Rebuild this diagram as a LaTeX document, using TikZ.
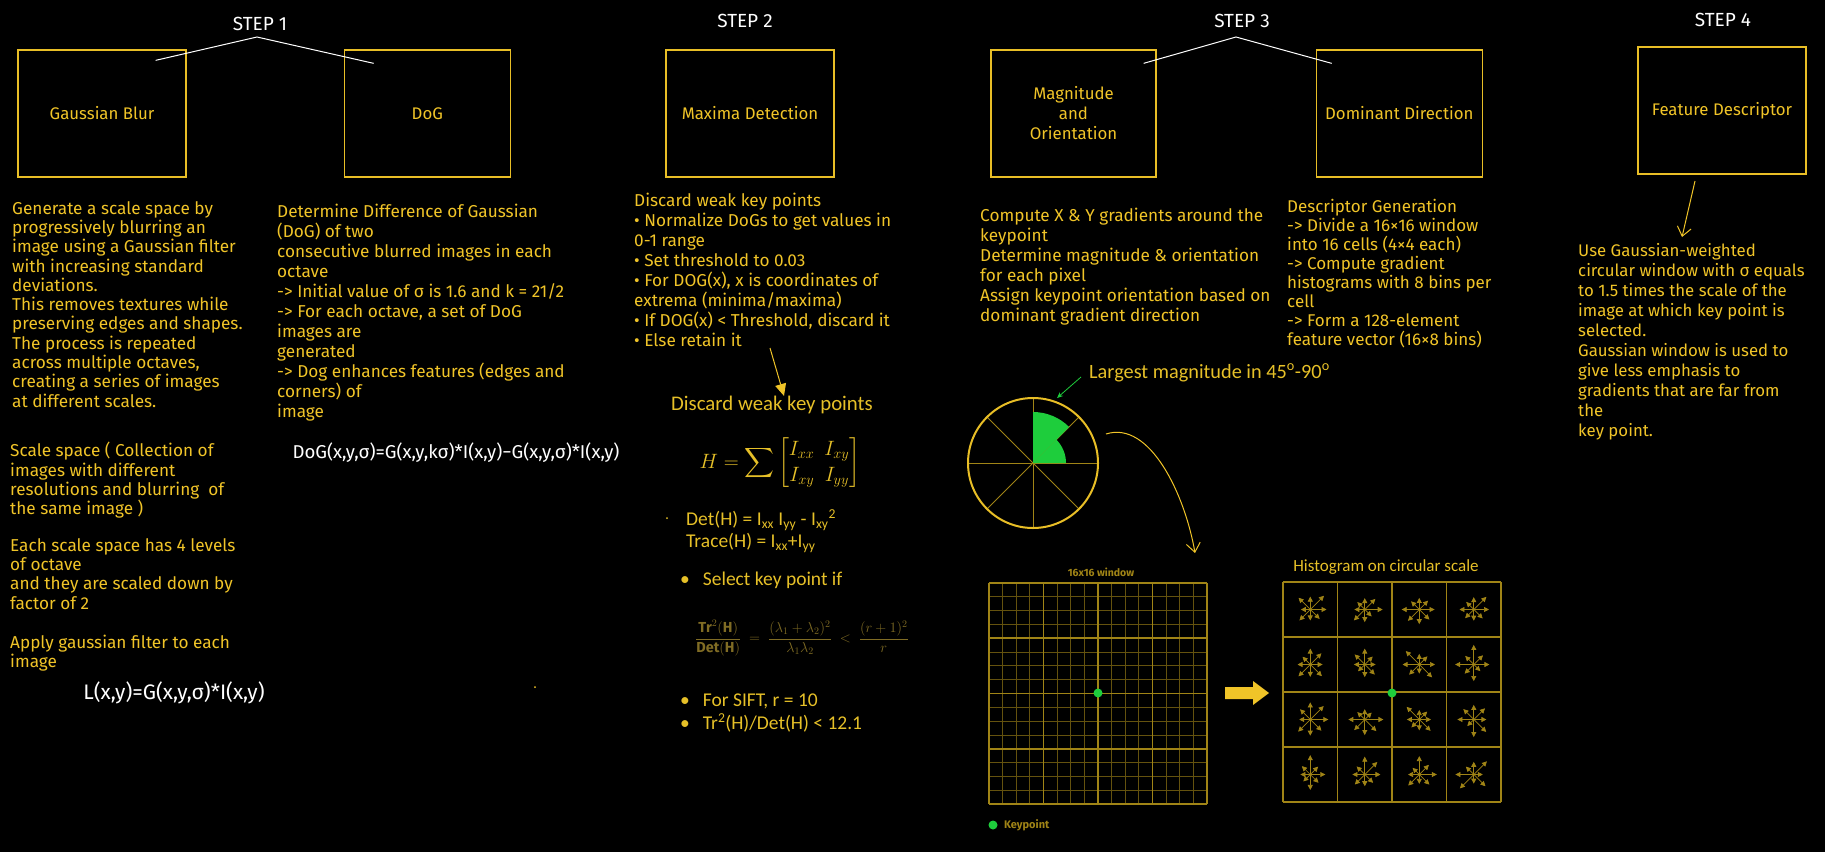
\documentclass[tikz,border=0pt]{standalone}
\usepackage{amsmath}
\usepackage{fontspec}
\setmainfont{Fira Sans}
\newfontfamily\slidefont{Carlito}
\usepackage{xcolor}
\usetikzlibrary{arrows.meta,positioning,calc}

\definecolor{sketchyel}{RGB}{240,196,40}
\definecolor{boxyel}{RGB}{232,190,38}
\definecolor{slideyel}{RGB}{230,192,40}
\definecolor{dimyel}{RGB}{128,108,36}
\definecolor{gridyel}{RGB}{160,132,22}
\definecolor{finegrid}{RGB}{100,82,14}
\definecolor{keygreen}{RGB}{30,205,60}

\newcommand{\handfont}{\fontsize{17.2}{20}\selectfont}
\newcommand{\labelfont}{\fontsize{16.8}{20}\selectfont}
\newcommand{\stepfont}{\fontsize{19}{21}\selectfont}
\newcommand{\slidesize}{\slidefont\fontsize{19.5}{23}\selectfont}

\begin{document}
\begin{tikzpicture}[
  x=1pt, y=-1pt,
  stepbox/.style={draw=boxyel, line width=1.3pt, minimum width=167pt, minimum height=127pt, text=sketchyel, font=\labelfont, align=center, inner sep=2pt},
  steplabel/.style={text=white, font=\stepfont, inner sep=1pt},
  stepline/.style={draw=white, line width=1pt},
  note/.style={text=sketchyel, font=\handfont, align=left, anchor=north west, inner sep=0pt},
  formula/.style={text=white, inner sep=0pt},
  slide/.style={text=slideyel, font=\slidesize, inner sep=0pt},
  sketcharrow/.style={draw=sketchyel, line width=1pt, -{Straight Barb[length=9pt,width=14pt]}},
  histarrow/.style={draw=gridyel, line width=0.7pt, -{Triangle[length=5pt,width=5pt]}}
]
\fill[black] (0,0) rectangle (1825,852);
\useasboundingbox (0,0) rectangle (1825,852);

% step 1
\node[stepbox, minimum width=168pt] (gb) at (102,113.5) {Gaussian Blur};
\node[stepbox, minimum width=166pt, right=157pt of gb] (dog) {DoG};
\node[steplabel] (step1) at (260,24) {STEP 1};
\coordinate (s1apex) at (257,37);
\coordinate (s1left) at ($(gb.north east)+(-31,11)$);
\coordinate (s1right) at ($(dog.north west)+(30,14)$);
\draw[stepline] (s1left) -- (s1apex) -- (s1right);

\node[note, font=\fontsize{17.2}{19.3}\selectfont] (scalespace) at (12,201) {Generate a scale space by\\
progressively blurring an\\
image using a Gaussian filter\\
with increasing standard\\
deviations.\\
This removes textures while\\
preserving edges and shapes.\\
The process is repeated\\
across multiple octaves,\\
creating a series of images\\
at different scales.};
\node[note, font=\fontsize{17.2}{19.3}\selectfont] (collection) at (10,442) {Scale space ( Collection of\\
images with different\\
resolutions and blurring\ \ of\\
the same image )};
\node[note, font=\fontsize{17.2}{19.3}\selectfont] (levels) at (10,538) {Each scale space has 4 levels\\
of octave\\
and they are scaled down by\\
factor of 2};
\node[note, font=\fontsize{17.2}{19.3}\selectfont] (applyg) at (10,635) {Apply gaussian filter to each\\
image};
\node[formula, font=\fontsize{21}{24}\selectfont] (lformula) at (174,693) {L(x,y)=G(x,y,σ)*I(x,y)};

\node[note] (dogtext) at (277,204) {Determine Difference of Gaussian\\
(DoG) of two\\
consecutive blurred images in each\\
octave\\
-> Initial value of σ is 1.6 and k = 21/2\\
-> For each octave, a set of DoG\\
images are\\
generated\\
-> Dog enhances features (edges and\\
corners) of\\
image};
\node[formula, font=\fontsize{18.6}{22}\selectfont] (dogformula) at (456,453) {DoG(x,y,σ)=G(x,y,kσ)*I(x,y)−G(x,y,σ)*I(x,y)};

% step 2
\node[steplabel] (step2) at (745,21) {STEP 2};
\node[stepbox, minimum width=168pt] (maxima) at (750,113.5) {Maxima Detection};
\node[note] (weak) at (634,193) {Discard weak key points\\
• Normalize DoGs to get values in\\
0-1 range\\
• Set threshold to 0.03\\
• For DOG(x), x is coordinates of\\
extrema (minima/maxima)\\
• If DOG(x) < Threshold, discard it\\
• Else retain it};
\node[slide, font=\slidefont\fontsize{20.8}{24}\selectfont] (hesstitle) at (772,405) {Discard weak key points};
\coordinate (weakend) at (770,348);
\draw[draw=sketchyel, line width=1pt, -{Triangle[length=12pt,width=11pt]}] (weakend) -- (hesstitle.north -| 784,0);
\node[slide, font=\fontsize{22}{26}\selectfont] (hessian) at (780,463)
  {$H=\displaystyle\sum\begin{bmatrix} I_{xx} & I_{xy}\\ I_{xy} & I_{yy}\end{bmatrix}$};
\fill[slideyel] (667,518) circle (1pt);
\node[slide, anchor=west] (deth) at (686,520) {Det(H) = I\textsubscript{xx} I\textsubscript{yy} - I\textsubscript{xy}\textsuperscript{2}};
\node[slide, anchor=west] (traceh) at (686,543) {Trace(H) = I\textsubscript{xx}+I\textsubscript{yy}};
\node[slide, anchor=west] (select) at (680,580) {•\hspace{13pt}Select key point if};
\node[text=dimyel, inner sep=0pt, font=\fontsize{14.5}{18}\selectfont] (ratio) at (802,638)
  {$\dfrac{\mathbf{Tr}^2(\mathbf{H})}{\mathbf{Det}(\mathbf{H})} \;=\; \dfrac{(\lambda_1+\lambda_2)^2}{\lambda_1\lambda_2} \;<\; \dfrac{(r+1)^2}{r}$};
\node[slide, anchor=west] (sift) at (680,701) {•\hspace{13pt}For SIFT, r = 10};
\node[slide, anchor=west] (trdet) at (680,723) {•\hspace{13pt}Tr\textsuperscript{2}(H)/Det(H) < 12.1};
\fill[sketchyel] (535,687) circle (1pt);

% step 3
\node[steplabel] (step3) at (1242,21) {STEP 3};
\node[stepbox, minimum width=165pt] (magori) at (1073.5,113.5) {Magnitude\\and\\Orientation};
\node[stepbox, minimum width=166pt, right=159pt of magori] (domdir) {Dominant Direction};
\coordinate (s3apex) at (1236,37);
\coordinate (s3left) at ($(magori.north east)+(-13,14)$);
\coordinate (s3right) at ($(domdir.north west)+(16,14)$);
\draw[stepline] (s3left) -- (s3apex) -- (s3right);

\node[note] (gradtext) at (980,208) {Compute X \& Y gradients around the\\
keypoint\\
Determine magnitude \& orientation\\
for each pixel\\
Assign keypoint orientation based on\\
dominant gradient direction};
\node[note, font=\fontsize{17}{19}\selectfont] (desctext) at (1287,199) {Descriptor Generation\\
-> Divide a 16×16 window\\
into 16 cells (4×4 each)\\
-> Compute gradient\\
histograms with 8 bins per\\
cell\\
-> Form a 128-element\\
feature vector (16×8 bins)};

% orientation circle
\coordinate (wheel) at (1033,463);
\foreach \a in {0,45,...,315}
  \draw[gridyel, line width=0.8pt] (wheel) -- ++(\a:65pt);
\fill[keygreen] (wheel) -- ++(45:51pt) arc[start angle=45, end angle=90, radius=51pt] -- cycle;
\fill[keygreen] (wheel) -- ++(0:33pt) arc[start angle=0, end angle=45, radius=33pt] -- cycle;
\draw[boxyel, line width=2pt] (wheel) circle (65pt);
\node[slide, anchor=west, font=\slidefont\fontsize{20.3}{24}\selectfont] (largest) at (1089,373) {Largest magnitude in 45\textsuperscript{o}-90\textsuperscript{o}};
\coordinate (greentip) at (1057,398);
\draw[keygreen, line width=0.8pt, -{Stealth[length=6pt,width=5pt]}] (largest.west) ++(-8,4) -- (greentip);
\coordinate (curvestart) at (1106,434);
\coordinate (curveend) at (1195,553);
\draw[sketcharrow] (curvestart) .. controls (1150,420) and (1185,495) .. (curveend);

% 16x16 window
\node[text=gridyel, font=\bfseries\fontsize{10.5}{12}\selectfont, inner sep=0pt] (wintitle) at (1101,572) {16x16 window};
\foreach \i in {0,...,16} {
  \draw[finegrid, line width=0.8pt] ({989+13.625*\i},583) -- ({989+13.625*\i},804);
  \draw[finegrid, line width=0.8pt] (989,{583+13.8125*\i}) -- (1207,{583+13.8125*\i});
}
\foreach \i in {0,4,...,16} {
  \draw[gridyel, line width=1.6pt] ({989+13.625*\i},583) -- ({989+13.625*\i},804);
  \draw[gridyel, line width=1.6pt] (989,{583+13.8125*\i}) -- (1207,{583+13.8125*\i});
}
\fill[keygreen] (1098,693) circle (4.5pt);
\fill[keygreen] (993,825) circle (4.5pt);
\node[text=gridyel, font=\bfseries\fontsize{11}{12}\selectfont, anchor=west, inner sep=0pt] (keylegend) at (1004,825) {Keypoint};

% block arrow
\fill[sketchyel] (1225,687) -- (1253,687) -- (1253,681) -- (1269,693) -- (1253,705) -- (1253,699) -- (1225,699) -- cycle;

% histogram grid
\node[slide, font=\slidefont\fontsize{17}{20}\selectfont] (histtitle) at (1386,567) {Histogram on circular scale};
\foreach \i in {0,...,4} {
  \draw[gridyel, line width=1.6pt] ({1283+54.5*\i},582) -- ({1283+54.5*\i},802);
  \draw[gridyel, line width=1.6pt] (1283,{582+55*\i}) -- (1501,{582+55*\i});
}
\pgfmathsetseed{11}
\foreach \i in {0,...,3}
  \foreach \j in {0,...,3}
    \foreach \a in {0,45,...,315} {
      \pgfmathsetmacro\len{9+11*rnd}
      \draw[histarrow] ({1283+54.5*(\i+0.5)},{582+55*(\j+0.5)}) -- ++(\a:\len pt);
    }
\fill[keygreen] (1392,693) circle (4.5pt);

% step 4
\node[steplabel] (step4) at (1723,20) {STEP 4};
\node[stepbox, minimum width=168pt] (featdesc) at (1722,110.5) {Feature Descriptor};
\coordinate (featstart) at (1695,181);
\coordinate (featend) at (1682,237);
\draw[sketcharrow] (featstart) -- (featend);
\node[note, font=\fontsize{16.8}{20}\selectfont] (gausswin) at (1578,243) {Use Gaussian-weighted\\
circular window with σ equals\\
to 1.5 times the scale of the\\
image at which key point is\\
selected.\\
Gaussian window is used to\\
give less emphasis to\\
gradients that are far from\\
the\\
key point.};
\end{tikzpicture}
\end{document}
